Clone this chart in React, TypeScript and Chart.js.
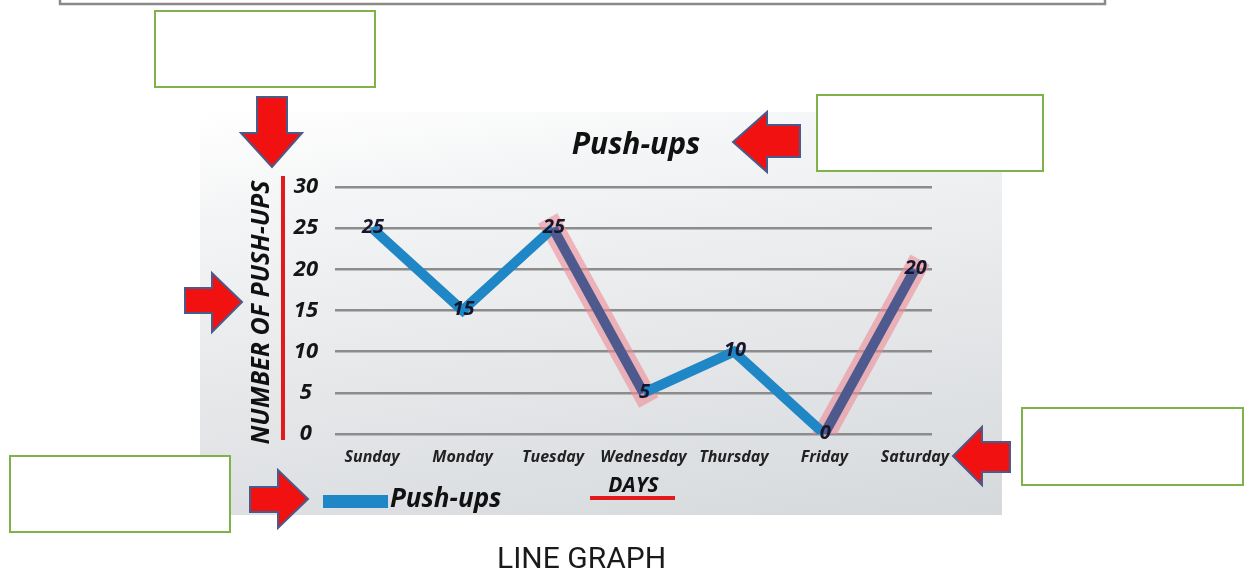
import React, { useEffect, useRef } from 'react';
import { Chart, registerables } from 'chart.js';

Chart.register(...registerables);

// ---- data ----
const days = ['Sunday', 'Monday', 'Tuesday', 'Wednesday', 'Thursday', 'Friday', 'Saturday'];
const pushUps = [25, 15, 25, 5, 10, 0, 20];
const highlightedSegments = [2, 5]; // segments starting at Tuesday and Friday
const yTicks = [0, 5, 10, 15, 20, 25, 30];
const chartTitle = 'Push-ups';
const seriesLabel = 'Push-ups';
const yAxisTitle = 'NUMBER OF PUSH-UPS';
const xAxisTitle = 'DAYS';
const caption = 'LINE GRAPH';

const FONT = '"Open Sans", sans-serif';
const BLUE = '#1f87c5';
const NAVY = '#4e5a8e';
const GLOW = 'rgba(238,140,150,0.6)';
const CLEAR = 'rgba(0,0,0,0)';

const isHighlighted = (ctx: any) => highlightedSegments.includes(ctx.p0DataIndex);

const dataLabels = {
  id: 'dataLabels',
  afterDatasetsDraw(chart: any) {
    const { ctx } = chart;
    const meta = chart.getDatasetMeta(0);
    ctx.save();
    ctx.font = `italic 700 20px ${FONT}`;
    ctx.fillStyle = '#16162c';
    ctx.textAlign = 'center';
    ctx.textBaseline = 'middle';
    meta.data.forEach((pt: any, i: number) => {
      ctx.fillText(String(pushUps[i]), pt.x + 1, pt.y - 1);
    });
    ctx.restore();
  },
};

const decor = {
  id: 'decor',
  afterDraw(chart: any) {
    const { ctx, chartArea } = chart;
    ctx.save();
    // red axis line
    ctx.fillStyle = '#e3191c';
    ctx.fillRect(281, 176, 4, 264);
    // y-axis title
    ctx.save();
    ctx.translate(262, (chartArea.top + chartArea.bottom) / 2 + 2);
    ctx.rotate(-Math.PI / 2);
    ctx.font = `italic 700 25px ${FONT}`;
    ctx.fillStyle = '#111';
    ctx.textAlign = 'center';
    ctx.textBaseline = 'middle';
    ctx.fillText(yAxisTitle, 0, 0, 266);
    ctx.restore();
    // x-axis title with red underline
    const cx = (chartArea.left + chartArea.right) / 2;
    ctx.font = `italic 700 21px ${FONT}`;
    ctx.fillStyle = '#111';
    ctx.textAlign = 'center';
    ctx.textBaseline = 'middle';
    ctx.fillText(xAxisTitle, cx, 486);
    ctx.fillStyle = '#e3191c';
    ctx.fillRect(590, 496, 85, 4);
    // legend
    ctx.fillStyle = BLUE;
    ctx.fillRect(323, 495, 65, 13);
    ctx.font = `italic 700 26px ${FONT}`;
    ctx.fillStyle = '#111';
    ctx.textAlign = 'left';
    ctx.fillText(seriesLabel, 390, 500);
    ctx.restore();
  },
};

export default function App() {
  const ref = useRef<HTMLCanvasElement>(null);

  useEffect(() => {
    const points = days.map((_, i) => ({ x: i, y: pushUps[i] }));
    const chart = new Chart(ref.current as HTMLCanvasElement, {
      type: 'line',
      data: {
        datasets: [
          {
            label: seriesLabel,
            data: points,
            borderColor: BLUE,
            borderWidth: 10,
            borderJoinStyle: 'miter',
            borderCapStyle: 'butt',
            pointRadius: 0,
            tension: 0,
            segment: { borderColor: (c: any) => (isHighlighted(c) ? NAVY : undefined) },
          },
          {
            label: 'highlight',
            data: points,
            borderColor: CLEAR,
            borderWidth: 22,
            borderCapStyle: 'square',
            pointRadius: 0,
            tension: 0,
            segment: { borderColor: (c: any) => (isHighlighted(c) ? GLOW : CLEAR) },
          },
        ],
      },
      options: {
        responsive: false,
        animation: false,
        layout: { padding: { left: 25, right: 0, top: 0, bottom: 0 } },
        plugins: {
          legend: { display: false },
          tooltip: { enabled: false },
          title: {
            display: true,
            text: chartTitle,
            color: '#111',
            font: { family: FONT, size: 30, weight: 'bold', style: 'italic', lineHeight: 1.2 },
            padding: { top: 127, bottom: 24 },
          },
        },
        scales: {
          x: {
            type: 'linear',
            min: -0.41,
            max: 6.19,
            afterBuildTicks: (s: any) => {
              s.ticks = days.map((_, i) => ({ value: i }));
            },
            afterFit: (s: any) => {
              s.height = 140;
            },
            ticks: {
              callback: (v: any) => days[v] ?? '',
              color: '#222',
              font: { family: FONT, size: 16, weight: 'bold', style: 'italic' },
              padding: 14,
              maxRotation: 0,
              autoSkip: false,
            },
            grid: { display: false, drawTicks: false },
            border: { display: false },
          },
          y: {
            min: 0,
            max: 30,
            afterBuildTicks: (s: any) => {
              s.ticks = yTicks.map((v) => ({ value: v }));
            },
            afterFit: (s: any) => {
              s.width = 310;
            },
            ticks: {
              color: '#151515',
              font: { family: FONT, size: 22, weight: 'bold', style: 'italic' },
              padding: 17,
              crossAlign: 'center',
            },
            grid: { color: '#8c8c8c', lineWidth: 2.5, drawTicks: false },
            border: { display: false },
          },
          y2: {
            position: 'right',
            display: true,
            ticks: { display: false },
            grid: { display: false, drawTicks: false },
            border: { display: false },
            afterFit: (s: any) => {
              s.width = 315;
            },
          },
        },
      },
      plugins: [dataLabels, decor],
    } as any);
    return () => chart.destroy();
  }, []);

  const arrowStyle = { fill: '#f21111', stroke: '#4a5a8a', strokeWidth: 2, strokeLinejoin: 'miter' as const };
  const boxStyle = { fill: '#fff', stroke: '#7fb24a', strokeWidth: 2 };

  return (
    <div style={{ position: 'absolute', left: 0, top: 0, width: 1247, height: 574, overflow: 'hidden', background: '#fff' }}>
      <div
        style={{
          position: 'absolute',
          left: 200,
          top: 112,
          width: 802,
          height: 403,
          background: 'linear-gradient(172deg, #ffffff 0%, #f4f5f6 20%, #e6e8ea 55%, #d6d9dc 100%)',
        }}
      />
      <canvas ref={ref} width={1247} height={574} style={{ position: 'absolute', left: 0, top: 0, width: 1247, height: 574 }} />
      <svg width={1247} height={574} style={{ position: 'absolute', left: 0, top: 0, pointerEvents: 'none' }}>
        <path d="M60,-4 V4 H1105 V-4" fill="none" stroke="#8a8a8a" strokeWidth={2.5} />
        <rect x={155} y={11} width={220} height={76} {...boxStyle} />
        <rect x={817} y={95} width={226} height={76} {...boxStyle} />
        <rect x={1022} y={408} width={221} height={77} {...boxStyle} />
        <rect x={10} y={456} width={220} height={76} {...boxStyle} />
        <polygon points="257,97 287,97 287,133 302,133 272,167 241,133 257,133" {...arrowStyle} />
        <polygon points="800,125 800,157 767,157 767,172 733,142 767,112 767,125" {...arrowStyle} />
        <polygon points="185,288 212,288 212,273 242,302 212,332 212,313 185,313" {...arrowStyle} />
        <polygon points="1010,442 1010,472 982,472 982,485 953,456 982,427 982,442" {...arrowStyle} />
        <polygon points="250,487 278,487 278,470 308,499 278,528 278,512 250,512" {...arrowStyle} />
      </svg>
      <div
        style={{
          position: 'absolute',
          left: 497,
          top: 543,
          fontFamily: 'Roboto, sans-serif',
          fontSize: 30,
          lineHeight: '30px',
          color: '#1a1a1a',
          whiteSpace: 'nowrap',
        }}
      >
        {caption}
      </div>
    </div>
  );
}
